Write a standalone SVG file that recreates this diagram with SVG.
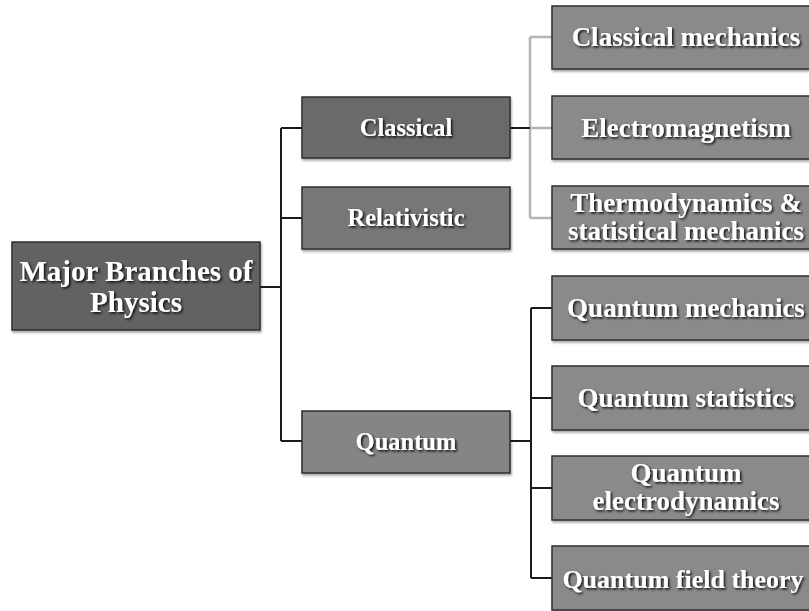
<svg xmlns="http://www.w3.org/2000/svg" width="809" height="611" viewBox="0 0 809 611">
<defs>
<filter id="ts" x="-10%" y="-30%" width="120%" height="160%">
<feDropShadow dx="1.5" dy="1.5" stdDeviation="0.8" flood-color="#000" flood-opacity="0.9"/>
</filter>
<filter id="bs" x="-5%" y="-10%" width="110%" height="125%">
<feDropShadow dx="1" dy="2" stdDeviation="1.2" flood-color="#000" flood-opacity="0.35"/>
</filter>
</defs>
<style>
.box{stroke:#2e2e2e;stroke-width:1.5;filter:url(#bs)}
.t{font-family:"Liberation Serif","Times New Roman",serif;font-weight:bold;fill:#fff;text-anchor:middle;filter:url(#ts)}
.m{font-size:24.5px}
.r{font-size:27px}
.dk{fill:none;stroke:#1a1a1a;stroke-width:2}
.lt{fill:none;stroke:#b4b4b4;stroke-width:2.5}
</style>
<rect width="809" height="611" fill="#fff"/>
<g id="connectors">
<path class="dk" d="M260 287 H281 M281 128 V441 M281 128 H302 M281 218 H302 M281 441 H302"/>
<path class="lt" d="M530 37 V218 M530 37 H552 M530 128 H552 M530 218 H552"/>
<path class="dk" d="M510 128 H530" stroke-width="3"/>
<path class="dk" d="M531 308 V578 M531 308 H552 M531 398 H552 M531 488 H552 M531 578 H552"/>
<path class="dk" d="M510 441 H531" stroke-width="3.5"/>
<path class="dk" d="M260 287 H281" stroke-width="3"/>
</g>
<g id="root">
<rect class="box" x="12" y="242" width="248" height="88" fill="#626262"/>
<text class="t" x="136" y="281" font-size="29">Major Branches of</text>
<text class="t" x="136" y="312" font-size="29">Physics</text>
</g>
<g id="classical">
<rect class="box" x="302" y="97" width="208" height="61" fill="#6a6a6a"/>
<text class="t m" x="406" y="136">Classical</text>
</g>
<g id="relativistic">
<rect class="box" x="302" y="187" width="208" height="62" fill="#777777"/>
<text class="t m" x="406" y="226">Relativistic</text>
</g>
<g id="quantum">
<rect class="box" x="302" y="411" width="208" height="62" fill="#858585"/>
<text class="t m" x="406" y="450">Quantum</text>
</g>
<g id="classical-mechanics">
<rect class="box" x="552" y="6" width="262" height="63" fill="#8a8a8a"/>
<text class="t r" x="686" y="46">Classical mechanics</text>
</g>
<g id="electromagnetism">
<rect class="box" x="552" y="96" width="262" height="63" fill="#8a8a8a"/>
<text class="t r" x="686" y="137">Electromagnetism</text>
</g>
<g id="thermodynamics">
<rect class="box" x="552" y="186" width="262" height="63" fill="#8a8a8a"/>
<text class="t r" x="686" y="212">Thermodynamics &amp;</text>
<text class="t r" x="686" y="240">statistical mechanics</text>
</g>
<g id="quantum-mechanics">
<rect class="box" x="552" y="276" width="262" height="64" fill="#8a8a8a"/>
<text class="t r" x="686" y="317">Quantum mechanics</text>
</g>
<g id="quantum-statistics">
<rect class="box" x="552" y="366" width="262" height="64" fill="#8a8a8a"/>
<text class="t r" x="686" y="407">Quantum statistics</text>
</g>
<g id="qed">
<rect class="box" x="552" y="456" width="262" height="64" fill="#8a8a8a"/>
<text class="t r" x="686" y="482">Quantum</text>
<text class="t r" x="686" y="510">electrodynamics</text>
</g>
<g id="qft">
<rect class="box" x="552" y="546" width="262" height="64" fill="#8a8a8a"/>
<text class="t" x="683" y="588" font-size="26">Quantum field theory</text>
</g>
</svg>
